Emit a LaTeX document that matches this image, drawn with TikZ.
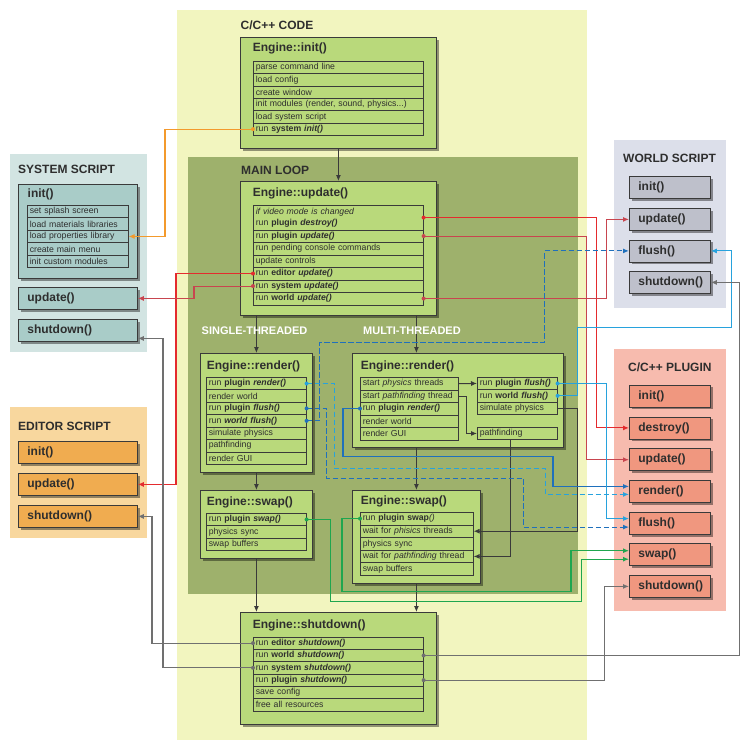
\documentclass[tikz,border=0pt]{standalone}
\usepackage{fontspec}
\setmainfont{Liberation Sans}
\usetikzlibrary{arrows.meta,shadows}

\definecolor{codebg}{HTML}{F2F5BF}
\definecolor{loopbg}{HTML}{9EB16C}
\definecolor{engfill}{HTML}{B9D97B}
\definecolor{boxline}{HTML}{3A3A3A}
\definecolor{txt}{HTML}{2E2E2E}
\definecolor{sysbg}{HTML}{D2E4E2}
\definecolor{sysbox}{HTML}{A9CCC8}
\definecolor{edbg}{HTML}{F8D79E}
\definecolor{edbox}{HTML}{F0AC50}
\definecolor{wldbg}{HTML}{DCDFEA}
\definecolor{wldbox}{HTML}{BEC0CB}
\definecolor{plgbg}{HTML}{F7BBAE}
\definecolor{plgbox}{HTML}{F0977F}
\definecolor{redA}{HTML}{E42B2E}
\definecolor{redB}{HTML}{C8454F}
\definecolor{orangeA}{HTML}{F39A2C}
\definecolor{blueA}{HTML}{27A2DD}
\definecolor{blueB}{HTML}{1F70BC}
\definecolor{greenA}{HTML}{1FA64F}
\definecolor{grayA}{HTML}{707070}

\begin{document}
\begin{tikzpicture}[x=1pt,y=-1pt,
  engbox/.style={draw=boxline, fill=engfill, line width=0.8pt, anchor=north west, inner sep=0pt,
    drop shadow={shadow xshift=3pt, shadow yshift=-3pt, fill=black, opacity=0.4}},
  engtitle/.style={anchor=west, inner sep=0pt, text=txt, font=\fontsize{12}{14}\selectfont\bfseries},
  paneltitle/.style={anchor=west, inner sep=0pt, text=txt, font=\fontsize{12}{14}\selectfont\bfseries},
  threadtitle/.style={anchor=west, inner sep=0pt, text=white, font=\fontsize{11}{13}\selectfont\bfseries},
  row/.style={draw=boxline, fill=engfill, line width=0.6pt, anchor=north west, inner xsep=2.5pt, inner ysep=0pt,
    text width=#1, align=left, minimum height=12.33pt, text=txt, font=\fontsize{8.7}{10.5}\selectfont},
  sbox/.style 2 args={draw=boxline, fill=#1, line width=0.8pt, anchor=north west, inner xsep=4pt, inner ysep=0pt,
    text width=#2, align=left, minimum height=22pt, text=txt, font=\fontsize{12}{14}\selectfont\bfseries,
    execute at begin node={\hspace*{5pt}},
    drop shadow={shadow xshift=2.5pt, shadow yshift=-2.5pt, fill=black, opacity=0.4}},
  link/.style={draw=#1, line width=1.1pt, -{Latex[length=6pt,width=5pt]}},
  dashlink/.style={link=#1, dash pattern=on 5.5pt off 2.5pt},
  flow/.style={draw=boxline, line width=1pt, -{Latex[length=6pt,width=5pt]}}]

\useasboundingbox (0,0) rectangle (750,750);
\fill[white] (0,0) rectangle (750,750);

\fill[codebg] (177,10) rectangle (587,740);
\fill[loopbg] (188,157) rectangle (578,594);
\fill[sysbg] (10,154) rectangle (147,352);
\fill[edbg] (10,407) rectangle (147,538);
\fill[wldbg] (614,140) rectangle (726,308);
\fill[plgbg] (614,349) rectangle (726,611);

\node[paneltitle] (codeT) at (240.5,25) {C/C++ CODE};
\node[paneltitle] (loopT) at (241,170) {MAIN LOOP};
\node[paneltitle] (sysT) at (18,169.5) {SYSTEM SCRIPT};
\node[paneltitle] (edT) at (18,426) {EDITOR SCRIPT};
\node[paneltitle] (wldT) at (623,158) {WORLD SCRIPT};
\node[paneltitle] (plgT) at (628,367) {C/C++ PLUGIN};

\node[engbox, minimum width=196pt, minimum height=111pt] (init) at (240,37) {};
\node[engtitle] (initT) at (252.7,48.5) {Engine::init()};
\node[row=165pt] (ini1) at (253,61) {parse command line};
\node[row=165pt] (ini2) at (253,73.33) {load config};
\node[row=165pt] (ini3) at (253,85.67) {create window};
\node[row=165pt] (ini4) at (253,98) {init modules (render, sound, physics...)};
\node[row=165pt] (ini5) at (253,110.33) {load system script};
\node[row=165pt] (ini6) at (253,122.67) {run \textbf{system \textit{init()}}};

\node[engbox, minimum width=196pt, minimum height=134pt] (update) at (240,181) {};
\node[engtitle] (updateT) at (252.7,193) {Engine::update()};
\node[row=165pt, minimum height=24.5pt] (upd1) at (253,205) {\textit{if video mode is changed}\\run \textbf{plugin \textit{destroy()}}};
\node[row=165pt, minimum height=12.5pt] (upd2) at (253,229.5) {run \textbf{plugin \textit{update()}}};
\node[row=165pt, minimum height=12.5pt] (upd3) at (253,242) {run pending console commands};
\node[row=165pt, minimum height=12.5pt] (upd4) at (253,254.5) {update controls};
\node[row=165pt, minimum height=12.5pt] (upd5) at (253,267) {run \textbf{editor \textit{update()}}};
\node[row=165pt, minimum height=12.5pt] (upd6) at (253,279.5) {run \textbf{system \textit{update()}}};
\node[row=165pt, minimum height=12.5pt] (upd7) at (253,292) {run \textbf{world \textit{update()}}};

\node[engbox, minimum width=112pt, minimum height=119pt] (srender) at (200,353) {};
\node[engtitle] (srenderT) at (206.7,366) {Engine::render()};
\node[row=95pt, minimum height=12.43pt] (sr1) at (206,377) {run \textbf{plugin \textit{render()}}};
\node[row=95pt, minimum height=12.43pt] (sr2) at (206,389.43) {render world};
\node[row=95pt, minimum height=12.43pt] (sr3) at (206,401.86) {run \textbf{plugin \textit{flush()}}};
\node[row=95pt, minimum height=12.43pt] (sr4) at (206,414.29) {run \textbf{\textit{world flush()}}};
\node[row=95pt, minimum height=12.43pt] (sr5) at (206,426.71) {simulate physics};
\node[row=95pt, minimum height=12.43pt] (sr6) at (206,439.14) {pathfinding};
\node[row=95pt, minimum height=12.43pt] (sr7) at (206,451.57) {render GUI};

\node[engbox, minimum width=112pt, minimum height=68pt] (sswap) at (200,490) {};
\node[engtitle] (sswapT) at (206.7,502.5) {Engine::swap()};
\node[row=95pt] (sw1) at (206,513) {run \textbf{plugin \textit{swap()}}};
\node[row=95pt] (sw2) at (206,525.33) {physics sync};
\node[row=95pt] (sw3) at (206,537.67) {swap buffers};

\node[engbox, minimum width=211pt, minimum height=94pt] (mrender) at (352,353) {};
\node[engtitle] (mrenderT) at (360.7,366) {Engine::render()};
\node[row=93pt, minimum height=12.5pt] (mr1) at (360,377) {start \textit{physics} threads};
\node[row=93pt, minimum height=12.5pt] (mr2) at (360,389.5) {start \textit{pathfinding} thread};
\node[row=93pt, minimum height=12.5pt] (mr3) at (360,402) {run \textbf{plugin \textit{render()}}};
\node[row=93pt, minimum height=12.5pt] (mr4) at (360,414.5) {render world};
\node[row=93pt, minimum height=12.5pt] (mr5) at (360,427) {render GUI};
\node[row=75pt] (mp1) at (477,377) {run \textbf{plugin \textit{flush()}}};
\node[row=75pt] (mp2) at (477,389.33) {run \textbf{world \textit{flush()}}};
\node[row=75pt] (mp3) at (477,401.67) {simulate physics};
\node[row=75pt] (mpath) at (477,427) {pathfinding};

\node[engbox, minimum width=128pt, minimum height=93pt] (mswap) at (352,490) {};
\node[engtitle] (mswapT) at (360.7,501.5) {Engine::swap()};
\node[row=108pt, minimum height=12.6pt] (mw1) at (360,512) {run \textbf{plugin swap}\textit{()}};
\node[row=108pt, minimum height=12.6pt] (mw2) at (360,524.6) {wait for \textit{phisics} threads};
\node[row=108pt, minimum height=12.6pt] (mw3) at (360,537.2) {physics sync};
\node[row=108pt, minimum height=12.6pt] (mw4) at (360,549.8) {wait for \textit{pathfinding} thread};
\node[row=108pt, minimum height=12.6pt] (mw5) at (360,562.4) {swap buffers};

\node[engbox, minimum width=196pt, minimum height=112pt] (shutdown) at (240,612) {};
\node[engtitle] (shutdownT) at (252.7,625) {Engine::shutdown()};
\node[row=165pt] (sh1) at (253,636.67) {run \textbf{editor \textit{shutdown()}}};
\node[row=165pt] (sh2) at (253,649) {run \textbf{world \textit{shutdown()}}};
\node[row=165pt] (sh3) at (253,661.33) {run \textbf{system \textit{shutdown()}}};
\node[row=165pt] (sh4) at (253,673.67) {run \textbf{plugin \textit{shutdown()}}};
\node[row=165pt] (sh5) at (253,686) {save config};
\node[row=165pt] (sh6) at (253,698.33) {free all resources};

\node[sbox={sysbox}{111pt}, minimum height=94pt] (sinit) at (18,184) {};
\node[engtitle] (sinitT) at (27.5,194.5) {init()};
\node[row=96pt, fill=sysbox, minimum height=12.46pt] (si1) at (27,205) {set splash screen};
\node[row=96pt, fill=sysbox, minimum height=12.46pt] (si2) at (27,217.46) {load materials libraries};
\node[row=96pt, fill=sysbox, minimum height=12.46pt] (si3) at (27,229.92) {load properties library};
\node[row=96pt, fill=sysbox, minimum height=12.46pt] (si4) at (27,242.38) {create main menu};
\node[row=96pt, fill=sysbox, minimum height=12.46pt] (si5) at (27,254.84) {init custom modules};
\node[sbox={sysbox}{111pt}] (supdate) at (18,287) {update()};
\node[sbox={sysbox}{111pt}] (sshut) at (18,319) {shutdown()};

\node[sbox={edbox}{111pt}] (einit) at (18,441) {init()};
\node[sbox={edbox}{111pt}] (eupdate) at (18,473) {update()};
\node[sbox={edbox}{111pt}] (eshut) at (18,505) {shutdown()};

\node[sbox={wldbox}{73pt}] (winit) at (629,176) {init()};
\node[sbox={wldbox}{73pt}] (wupdate) at (629,208) {update()};
\node[sbox={wldbox}{73pt}] (wflush) at (629,239.5) {flush()};
\node[sbox={wldbox}{73pt}] (wshut) at (629,271) {shutdown()};

\node[sbox={plgbox}{73pt}] (pinit) at (629,384.5) {init()};
\node[sbox={plgbox}{73pt}] (pdestroy) at (629,416.5) {destroy()};
\node[sbox={plgbox}{73pt}] (pupdate) at (629,448.3) {update()};
\node[sbox={plgbox}{73pt}] (prender) at (629,480) {render()};
\node[sbox={plgbox}{73pt}] (pflush) at (629,511.7) {flush()};
\node[sbox={plgbox}{73pt}] (pswap) at (629,543.3) {swap()};
\node[sbox={plgbox}{73pt}] (pshut) at (629,575) {shutdown()};

\draw[flow] (init.south) -- (update.north);
\draw[flow] (update.south -| srender.north) -- (srender.north);
\draw[flow] ([xshift=78pt]update.south) -- ([xshift=78pt]update.south |- mrender.north);
\draw[flow] (srender.south) -- (sswap.north);
\draw[flow] (mrender.south -| mswap.north) -- (mswap.north);
\draw[flow] (sswap.south) -- (sswap.south |- shutdown.north);
\draw[flow] (mswap.south) -- (mswap.south |- shutdown.north);
\draw[flow] (mr1.east) -- (mp1.west);
\draw[flow] (mr2.east) -- ++(8,0) |- (mpath.west);
\draw[flow] (mp3.east) -- ++(20,0) |- (mw2.east);
\draw[flow] ([xshift=-7pt]mpath.south) |- (mw4.east);

\draw[link=orangeA] (ini6.west) -- ++(-88,0) |- (si3.east);
\fill[orangeA] (ini6.west) circle[radius=2pt];

\draw[link=redA] (upd1.east) -- ++(173,0) |- (pdestroy.west);
\fill[redA] (upd1.east) circle[radius=2pt];
\draw[link=redB] (upd2.east) -- ++(163,0) |- (pupdate.west);
\fill[redB] (upd2.east) circle[radius=2pt];
\draw[link=redB] (upd7.east) -- ++(183,0) |- (wupdate.west);
\fill[redB] (upd7.east) circle[radius=2pt];
\draw[link=redA] (upd5.west) -- ++(-77,0) |- (eupdate.east);
\fill[redA] (upd5.west) circle[radius=2pt];
\draw[link=redB] (upd6.west) -- ++(-59,0) |- (supdate.east);
\fill[redB] (upd6.west) circle[radius=2pt];

\draw[dashlink=blueB] (sr4.east) -- ++(13,0) -- ++(0,-78.5) -- ++(225,0) |- (wflush.west);
\fill[blueB] (sr4.east) circle[radius=2pt];
\draw[link=blueA] (mp2.east) -- ++(20,0) -- ++(0,-68) -- ++(154,0) |- (wflush.east);
\fill[blueA] (mp2.east) circle[radius=2pt];
\draw[link=blueB] (mr3.west) -- ++(-17,0) -- ++(0,48) -- ++(210,0) |- ([yshift=5pt]prender.west);
\fill[blueB] (mr3.west) circle[radius=2pt];
\draw[dashlink=blueA] (sr1.east) -- ++(28,0) -- ++(0,85) -- ++(211,0) |- ([yshift=-3pt]prender.west);
\fill[blueA] (sr1.east) circle[radius=2pt];
\draw[dashlink=blueB] (sr3.east) -- ++(20,0) -- ++(0,70) -- ++(197,0) |- ([yshift=-4pt]pflush.west);
\fill[blueB] (sr3.east) circle[radius=2pt];
\draw[link=blueA] (mp1.east) -- ++(49,0) |- ([yshift=4.5pt]pflush.west);
\fill[blueA] (mp1.east) circle[radius=2pt];

\draw[link=greenA] (mw1.west) -- ++(-18,0) -- ++(0,72.5) -- ++(229,0) |- ([yshift=4pt]pswap.west);
\fill[greenA] (mw1.west) circle[radius=2pt];
\draw[link=greenA] (sw1.east) -- ++(24,0) -- ++(0,82) -- ++(251,0) |- ([yshift=-4.5pt]pswap.west);
\fill[greenA] (sw1.east) circle[radius=2pt];

\draw[link=grayA] (sh4.east) -- ++(181,0) |- (pshut.west);
\fill[grayA] (sh4.east) circle[radius=2pt];
\draw[link=grayA] (sh2.east) -- ++(316,0) |- (wshut.east);
\fill[grayA] (sh2.east) circle[radius=2pt];
\draw[link=grayA] (sh3.west) -- ++(-90,0) |- ([yshift=-8pt]sshut.east);
\fill[grayA] (sh3.west) circle[radius=2pt];
\draw[link=grayA] (sh1.west) -- ++(-101,0) |- (eshut.east);
\fill[grayA] (sh1.west) circle[radius=2pt];

\node[threadtitle] (singleT) at (201.5,331) {SINGLE-THREADED};
\node[threadtitle] (multiT) at (363,331) {MULTI-THREADED};
\end{tikzpicture}
\end{document}
